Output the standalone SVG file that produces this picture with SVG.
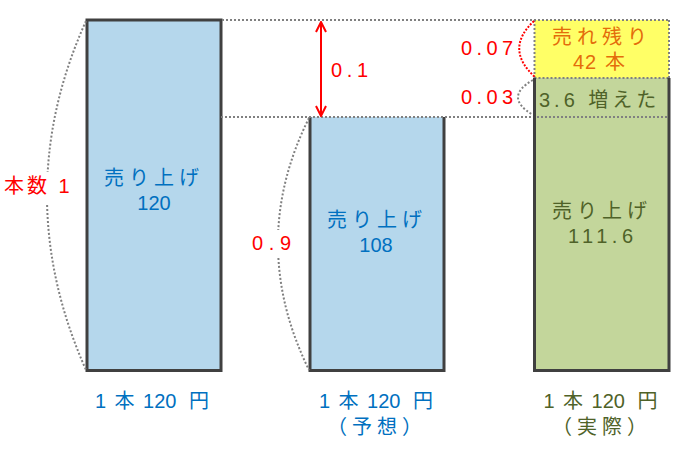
<svg xmlns="http://www.w3.org/2000/svg" width="692" height="449" viewBox="0 0 692 449">
<style>
text{font-family:"Liberation Sans","Noto Sans CJK JP","Noto Sans CJK SC",sans-serif;font-size:20px}
.blue{fill:#0070C0}.olive{fill:#4F6228}.red{fill:#FF0000}.orange{fill:#E46C0A}
.ls{letter-spacing:5px}
.box{stroke:#404040;stroke-width:3;fill:none}
.bluefill{fill:#B5D7EC}
.dot{stroke:#808080;stroke-width:2;stroke-dasharray:2 2;fill:none}
.rdot{stroke:#FF0000;stroke-width:2;stroke-dasharray:2 1.5;fill:none}
</style>
<defs>
<marker id="ah" viewBox="0 0 12 12" refX="11" refY="6" markerWidth="12" markerHeight="12" markerUnits="userSpaceOnUse" orient="auto-start-reverse">
<path d="M1,1 L11,6 L1,11" fill="none" stroke="#FF0000" stroke-width="2"/>
</marker>
</defs>
<rect width="692" height="449" fill="#FFFFFF"/>

<g id="box-forecast-all">
<rect x="87" y="20" width="134" height="350.5" class="bluefill"/>
<rect x="87" y="20" width="134" height="350.5" class="box"/>
<text class="blue ls" x="104" y="185">売り上げ</text>
<text class="blue" x="154" y="210" text-anchor="middle">120</text>
<text class="blue" y="408"><tspan x="95">1</tspan><tspan x="109"> 本</tspan><tspan x="137.5"> 120</tspan><tspan x="183.4"> 円</tspan></text>
</g>

<g id="box-forecast">
<rect x="310" y="117" width="134" height="253.5" class="bluefill"/>
<path d="M310,117 V370.5 H444 V117" class="box"/>
<text class="blue ls" x="327" y="227">売り上げ</text>
<text class="blue" x="376" y="252" text-anchor="middle">108</text>
<text class="blue" y="408"><tspan x="319">1</tspan><tspan x="333"> 本</tspan><tspan x="361.5"> 120</tspan><tspan x="407.4"> 円</tspan></text>
<text class="blue ls" x="327" y="434">（予想）</text>
</g>

<g id="box-leftover">
<rect x="534.5" y="20" width="134.5" height="58" fill="#FFFF66"/>
<text class="orange ls" x="552" y="44">売れ残り</text>
<text class="orange" y="69"><tspan x="573" style="letter-spacing:1px">42 </tspan><tspan x="605">本</tspan></text>
</g>

<g id="box-actual">
<rect x="534.5" y="78" width="134.5" height="292.5" fill="#C3D69B"/>
<text class="olive" x="539" y="107" style="letter-spacing:4px">3.6 増えた</text>
<text class="olive ls" x="552" y="218">売り上げ</text>
<text class="olive" x="568" y="242.5" textLength="65" lengthAdjust="spacing">111.6</text>
<text class="olive" y="408"><tspan x="543.5">1</tspan><tspan x="557.5"> 本</tspan><tspan x="586"> 120</tspan><tspan x="632"> 円</tspan></text>
<text class="olive ls" x="552" y="434">（実際）</text>
</g>

<g id="connectors">
<path d="M222,20 H669 M221,117 H669 M534.5,20 V78 M669,20 V78 M534.5,78 H669" class="dot"/>
<path d="M86,21 Q52.1,96 47.7,172 M47.1,205 Q49.3,287.6 86,370" class="dot"/>
<path d="M309,118 Q281.3,173.5 278.3,230 M278.4,258 Q281.5,314 309,370" class="dot"/>
<path d="M534,21 Q504,49 535,77" class="rdot"/>
<path d="M533,80 Q503,97 533,115" class="dot"/>
<path d="M534.5,78 V370.5 H669 V78" class="box"/>
<line x1="321" y1="22" x2="321" y2="116" stroke="#FF0000" stroke-width="2" marker-start="url(#ah)" marker-end="url(#ah)"/>
</g>

<g id="labels">
<text class="red" x="4" y="193" style="letter-spacing:3px">本数 1</text>
<text class="red" x="331" y="77" textLength="37" lengthAdjust="spacing">0.1</text>
<text class="red" x="252" y="250" textLength="39" lengthAdjust="spacing">0.9</text>
<text class="red" x="461" y="55" textLength="52" lengthAdjust="spacing">0.07</text>
<text class="red" x="461" y="104" textLength="52" lengthAdjust="spacing">0.03</text>
</g>
</svg>
